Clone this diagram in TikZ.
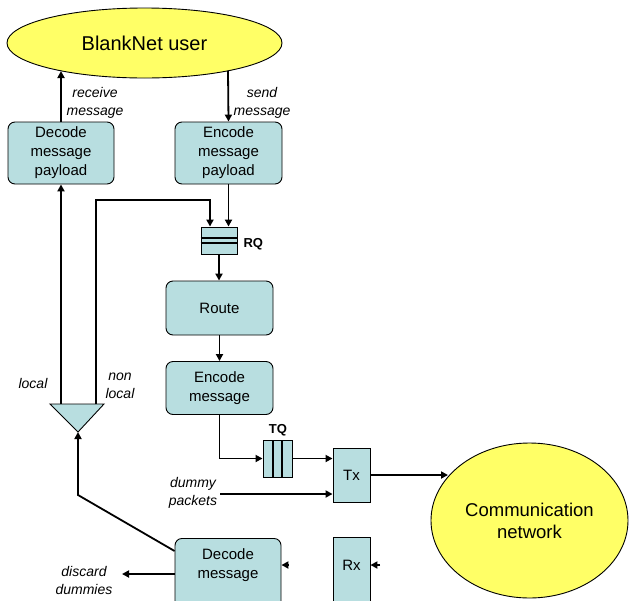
\documentclass[tikz,border=0pt]{standalone}
\usepackage{fontspec}
\setmainfont{Liberation Sans}
\usetikzlibrary{arrows.meta,shapes.geometric,calc}
\definecolor{boxc}{RGB}{184,222,224}
\definecolor{yel}{RGB}{255,255,102}
\begin{document}
\begin{tikzpicture}[x=1pt,y=-1pt,
 conn/.style={line width=1.8pt,-{Triangle[length=7pt,width=7pt]}},
 box/.style={draw,line width=0.9pt,fill=boxc,rounded corners=7pt,align=center,font=\fontsize{15}{19}\selectfont,inner sep=0pt},
 sqbox/.style={draw,line width=0.9pt,fill=boxc,align=center,font=\fontsize{15}{19}\selectfont,inner sep=0pt},
 oval/.style={ellipse,draw,line width=0.9pt,fill=yel,align=center,inner sep=0pt},
 lab/.style={font=\fontsize{14}{18}\selectfont\itshape,align=center},
 qlab/.style={font=\fontsize{13}{13}\selectfont\bfseries},
 btext/.style={font=\fontsize{15}{19}\selectfont,align=center},
 ]
\useasboundingbox (0,0) rectangle (629,600);
\clip (0,0) rectangle (629,600);

% main nodes
\node[oval,minimum width=275,minimum height=70,font=\fontsize{20}{22}\selectfont] (user) at (144.5,43) {BlankNet user};
\node[box,minimum width=106,minimum height=62] (dpay) at (61,153) {Decode\\message\\payload};
\node[box,minimum width=107,minimum height=62] (epay) at (228.5,153) {Encode\\message\\payload};
\node[sqbox,minimum width=36,minimum height=27] (rq) at (219,240.5) {};
\draw[line width=1.3pt] ($(rq.west)+(0,-2.5)$) -- ($(rq.east)+(0,-2.5)$);
\draw[line width=1.3pt] ($(rq.west)+(0,2.5)$) -- ($(rq.east)+(0,2.5)$);
\node[qlab,anchor=west] (rqlab) at (240,244) {RQ};
\node[box,minimum width=107,minimum height=54] (route) at (219.5,308) {Route};
\node[box,minimum width=107,minimum height=53] (emsg) at (219.5,388) {Encode\\message};
\node[sqbox,minimum width=29,minimum height=37] (tq) at (277.5,458.5) {};
\draw[line width=1.6pt] (273,440) -- (273,477);
\draw[line width=1.6pt] (282,440) -- (282,477);
\node[qlab] (tqlab) at (278,430) {TQ};
\node[sqbox,minimum width=37,minimum height=54] (tx) at (351.5,475) {Tx};
\node[oval,minimum width=197,minimum height=155,font=\fontsize{18.5}{22}\selectfont] (comm) at (529.5,520.5) {Communication\\network};
\node[sqbox,minimum width=37,minimum height=80,anchor=north] (rx) at (351.5,537) {};
\node[btext] (rxt) at (351.5,565) {Rx};
\node[box,minimum width=106,minimum height=80,anchor=north] (dmsg) at (228,538) {};
\node[btext] (dmsgt) at (228,565) {Decode\\message};

% splitter triangle
\coordinate (tl) at (50,404);
\coordinate (tr) at (104,404);
\coordinate (tb) at (78,432);
\draw[fill=boxc,line width=0.9pt] (tl) -- (tr) -- (tb) -- cycle;
\coordinate (trl) at (61,404);
\coordinate (trnl) at (96,404);

% helper coordinates
\coordinate (u1) at (61,71);
\coordinate (u2) at (228,71);
\coordinate (nlturn) at (96,200);
\coordinate (rqin) at ([xshift=-9pt]rq.north);
\coordinate (dum) at (220,494);
\coordinate (cin) at (448,475);
\coordinate (tdiag) at (78,495);
\coordinate (disc) at (122,574);
\coordinate (din) at (289,565);
\coordinate (rin) at (380,565);

% connectors
\draw[conn] (dpay.north) -- (u1);
\draw[conn] (u2) -- (epay.north);
\draw[conn] (epay.south) -- (epay.south |- rq.north);
\draw[conn] (trnl) -- (nlturn) -| (rqin);
\draw[conn] (trl) -- (trl |- dpay.south);
\draw[conn] (rq.south) -- (rq.south |- route.north);
\draw[conn] (route.south) -- (emsg.north);
\draw[conn] (emsg.south) |- (tq.west);
\draw[conn] (tq.east) -- (tq.east -| tx.west);
\draw[conn] (dum) -- (dum -| tx.west);
\draw[conn] (tx.east) -- (cin);
\draw[conn] ([yshift=-13pt]dmsg.north west) -- (tdiag) -- (tb);
\draw[conn] (disc -| dmsg.west) -- (disc);
\draw[conn] (din) -- (din -| dmsg.east);
\draw[conn] (rin) -- (rin -| rx.east);

% labels
\node[lab] (lrecv) at (95,103) {receive\\message};
\node[lab] (lsend) at (262,103) {send\\message};
\node[lab] (llocal) at (33,383) {local};
\node[lab] (lnonlocal) at (120,386) {non\\local};
\node[lab] (ldummy) at (193,493) {dummy\\packets};
\node[lab] (ldisc) at (84,580) {discard\\dummies};
\end{tikzpicture}
\end{document}
